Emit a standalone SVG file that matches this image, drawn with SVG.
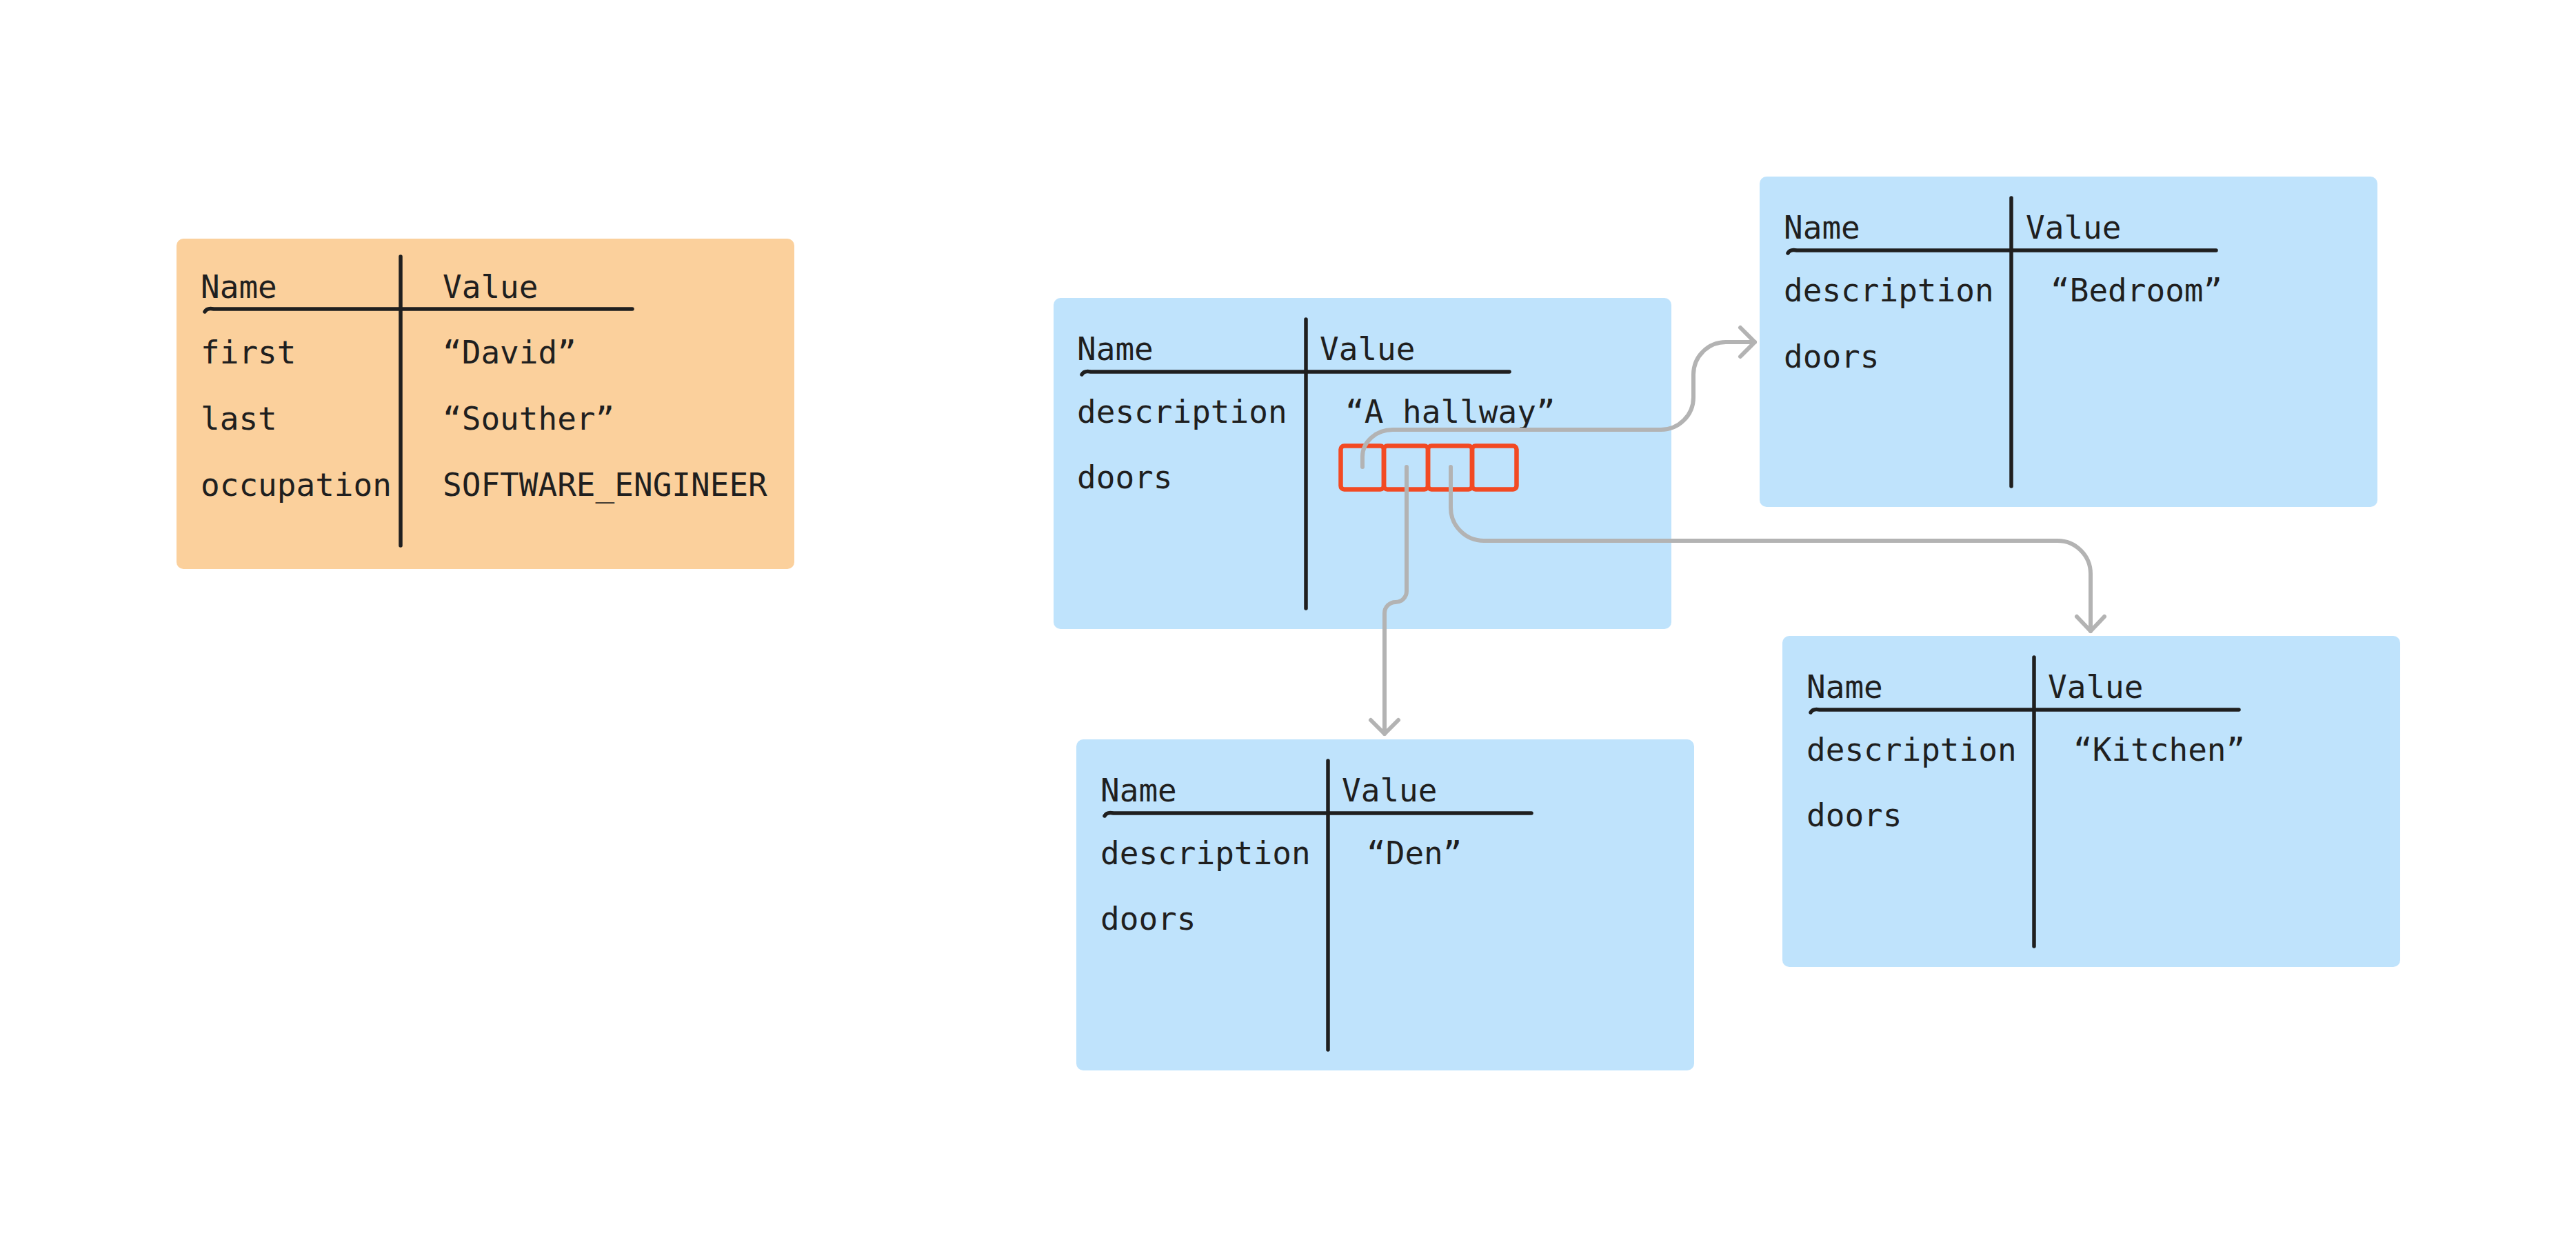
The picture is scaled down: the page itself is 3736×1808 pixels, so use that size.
<svg xmlns="http://www.w3.org/2000/svg" width="3736" height="1808" viewBox="0 0 3736 1808">
  <style>
    .txt { font-family: "DejaVu Sans Mono", "Liberation Mono", monospace; font-size: 46px; fill: #1f1f1f; }
    .blue { fill: #BFE3FC; }
    .orange { fill: #FBD09C; }
    .rule { fill: none; stroke: #1f1f1f; stroke-width: 5.5; stroke-linecap: round; }
    .cell { fill: none; stroke: #F24A23; stroke-width: 6.5; }
    .conn { fill: none; stroke: #B3B3B3; stroke-width: 6; stroke-linecap: round; stroke-linejoin: round; }
  </style>
  <rect width="3736" height="1808" fill="#ffffff"/>

  <g id="person">
    <rect class="orange" x="256" y="346" width="896" height="479" rx="10"/>
    <path class="rule" d="M297,452 Q300,446 310,448 L917,448"/>
    <line class="rule" x1="581" y1="372" x2="581" y2="791"/>
    <text class="txt" x="291" y="432">Name</text>
    <text class="txt" x="642" y="432">Value</text>
    <text class="txt" x="291" y="527">first</text>
    <text class="txt" x="642" y="527">“David”</text>
    <text class="txt" x="291" y="623">last</text>
    <text class="txt" x="642" y="623">“Souther”</text>
    <text class="txt" x="291" y="719">occupation</text>
    <text class="txt" x="642" y="719">SOFTWARE_ENGINEER</text>
  </g>

  <g id="hallway">
    <rect class="blue" x="1528" y="432" width="896" height="480" rx="10"/>
    <path class="rule" d="M1569,543 Q1572,537 1582,539 L2189,539"/>
    <line class="rule" x1="1894" y1="463" x2="1894" y2="882"/>
    <text class="txt" x="1562" y="522">Name</text>
    <text class="txt" x="1914" y="522">Value</text>
    <text class="txt" x="1562" y="613">description</text>
    <text class="txt" x="1951" y="613">“A hallway”</text>
    <text class="txt" x="1562" y="708">doors</text>
    <g id="doors-array">
      <rect class="cell" x="1944.5" y="646.5" width="62.5" height="63" rx="5"/>
      <rect class="cell" x="2007" y="646.5" width="64" height="63" rx="5"/>
      <rect class="cell" x="2071" y="646.5" width="64" height="63" rx="5"/>
      <rect class="cell" x="2135" y="646.5" width="64.5" height="63" rx="5"/>
    </g>
  </g>

  <g id="bedroom">
    <rect class="blue" x="2552" y="256" width="896" height="479" rx="10"/>
    <path class="rule" d="M2593,367 Q2596,361 2606,363 L3214,363"/>
    <line class="rule" x1="2917" y1="287" x2="2917" y2="705"/>
    <text class="txt" x="2587" y="346">Name</text>
    <text class="txt" x="2938" y="346">Value</text>
    <text class="txt" x="2587" y="437">description</text>
    <text class="txt" x="2974" y="437">“Bedroom”</text>
    <text class="txt" x="2587" y="533">doors</text>
  </g>

  <g id="den">
    <rect class="blue" x="1561" y="1072" width="896" height="480" rx="10"/>
    <path class="rule" d="M1602,1183 Q1605,1177 1615,1179 L2221,1179"/>
    <line class="rule" x1="1926" y1="1103" x2="1926" y2="1522"/>
    <text class="txt" x="1596" y="1162">Name</text>
    <text class="txt" x="1946" y="1162">Value</text>
    <text class="txt" x="1596" y="1253">description</text>
    <text class="txt" x="1982" y="1253">“Den”</text>
    <text class="txt" x="1596" y="1348">doors</text>
  </g>

  <g id="kitchen">
    <rect class="blue" x="2585" y="922" width="896" height="480" rx="10"/>
    <path class="rule" d="M2626,1033 Q2629,1027 2639,1029 L3247,1029"/>
    <line class="rule" x1="2950" y1="953" x2="2950" y2="1372"/>
    <text class="txt" x="2620" y="1012">Name</text>
    <text class="txt" x="2970" y="1012">Value</text>
    <text class="txt" x="2620" y="1103">description</text>
    <text class="txt" x="3007" y="1103">“Kitchen”</text>
    <text class="txt" x="2620" y="1198">doors</text>
  </g>

  <g id="connectors">
    <path class="conn" d="M1976,677 V662 A44,39 0 0 1 2020,623 H2409 A47,47 0 0 0 2456,576 V543 A47,47 0 0 1 2503,496 H2545"/>
    <path class="conn" d="M2524,475 L2545,496 L2524,517"/>
    <path class="conn" d="M2040,677 V857 A16,16 0 0 1 2024,873 A16,16 0 0 0 2008,889 V1064"/>
    <path class="conn" d="M1988,1044 L2008,1064 L2028,1044"/>
    <path class="conn" d="M2104,677 V736 A48,48 0 0 0 2152,784 H2984 A48,48 0 0 1 3032,832 V915"/>
    <path class="conn" d="M3012,894 L3032,915 L3052,894"/>
  </g>
</svg>
